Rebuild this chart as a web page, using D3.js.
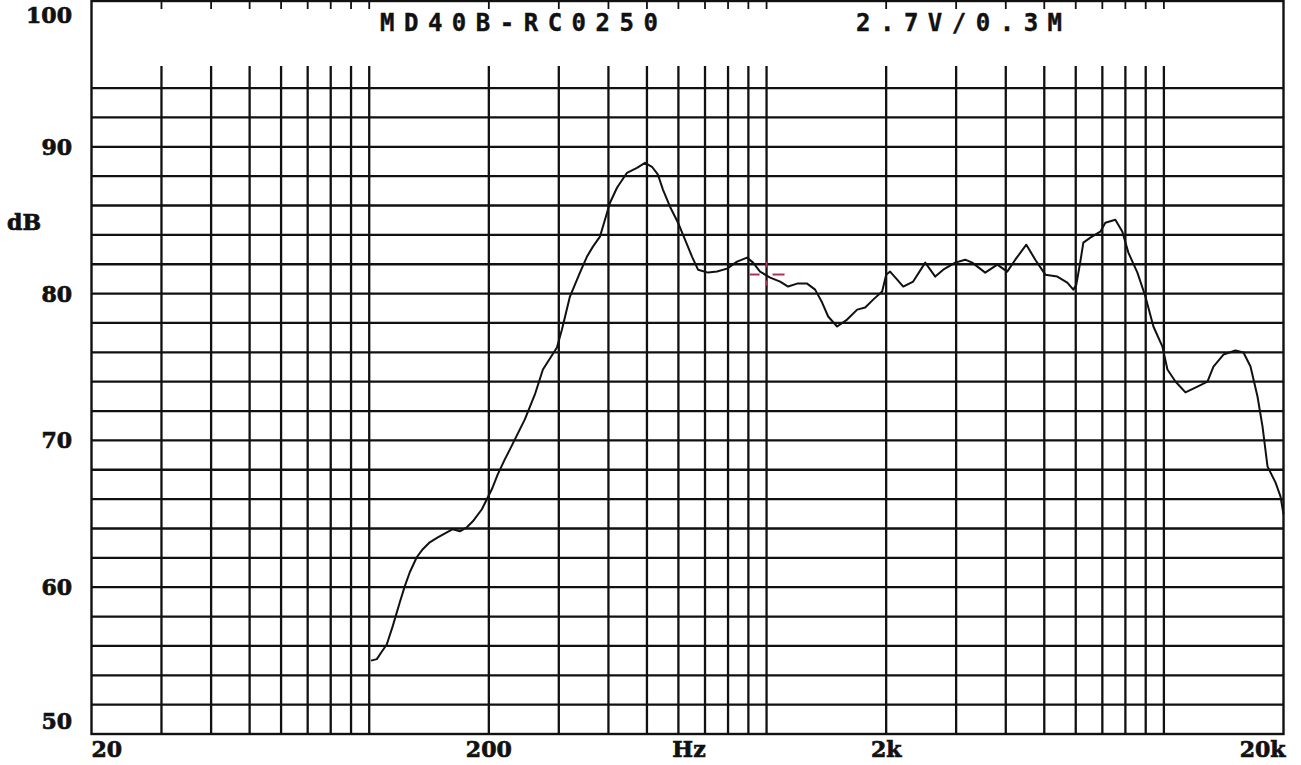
<!DOCTYPE html>
<html>
<head>
<meta charset="utf-8">
<script src="https://cdn.jsdelivr.net/npm/d3@7"></script>
<style>
  html, body { margin: 0; padding: 0; background: #fff; }
  svg { display: block; }
</style>
</head>
<body>
<div id="chart"></div>
<script>
// response curve: frequency (Hz) and level (dB)
const freqHz = [101, 104.5, 107.5, 110.7, 114.6, 119.4, 122.9, 126.5, 131.7, 136.4,
  142, 148.8, 156.8, 162.3, 169.1, 176.1, 182.3, 192.1, 197.7, 203.5,
  210.6, 219.4, 226, 246.4, 261.2, 273.6, 296.8, 305.5, 320, 339.1,
  353.2, 365.6, 380.8, 392, 403.6, 420.3, 445.4, 471.9, 494.3, 514.8,
  533, 548.8, 571.5, 598.7, 623.4, 649.2, 672.2, 712.4, 750.6, 795.4,
  842.8, 893.1, 924.8, 963, 1021, 1082, 1133, 1194, 1265, 1325,
  1380, 1429, 1505, 1595, 1691, 1771, 1855, 1954, 2000, 2046,
  2132, 2208, 2339, 2508, 2658, 2784, 2984, 3162, 3293, 3551,
  3808, 4034, 4226, 4506, 4746, 5030, 5392, 5714, 5916, 6020,
  6162, 6270, 6530, 6918, 7122, 7548, 7862, 8140, 8577, 8984,
  9411, 9915, 10208, 10692, 11330, 12146, 12872, 13328, 14124, 15140,
  15860, 16518, 17202, 17708, 18230, 19090, 19652, 20000];
const levelDb = [55.0, 55.1, 55.6, 56.1, 57.35, 58.98, 60.07, 61.02, 62.04, 62.59,
  63.06, 63.4, 63.74, 63.95, 63.81, 64.08, 64.49, 65.31, 65.99, 66.67,
  67.69, 68.71, 69.39, 71.43, 73.13, 74.83, 76.33, 77.55, 79.8, 81.43,
  82.52, 83.2, 83.88, 85.03, 86.19, 87.21, 88.23, 88.57, 88.91, 88.64,
  88.1, 87.07, 85.92, 84.83, 83.67, 82.52, 81.63, 81.43, 81.5, 81.7,
  82.18, 82.45, 82.11, 81.5, 81.09, 80.82, 80.48, 80.68, 80.68, 80.27,
  79.39, 78.44, 77.76, 78.23, 78.91, 79.05, 79.59, 80.14, 81.29, 81.5,
  80.95, 80.48, 80.82, 82.11, 81.16, 81.63, 82.11, 82.31, 82.11, 81.43,
  81.97, 81.5, 82.31, 83.33, 82.31, 81.29, 81.16, 80.75, 80.27, 80.61,
  82.18, 83.47, 83.81, 84.22, 84.83, 85.03, 84.22, 82.79, 81.43, 79.8,
  77.76, 76.39, 74.83, 74.01, 73.27, 73.67, 74.01, 75.03, 75.85, 76.12,
  75.99, 75.03, 72.99, 70.95, 68.23, 67.14, 66.19, 64.97];

const yTickValues = [100, 90, 80, 70, 60, 50];
const xTickValues = [20, 200, 2000, 20000];
const xTickLabels = ["20", "200", "2k", "20k"];
const titleModel = "MD40B-RC0250";
const titleDrive = "2.7V/0.3M";
const cursorHz = 1000;
const cursorDb = 81.3;

const width = 1301, height = 765;
const plotLeft = 91.5, plotRight = 1283.5, plotTop = 0, plotBottom = 734;

var x = d3.scaleLog().domain([20, 20000]).range([plotLeft, plotRight]);
var y = d3.scaleLinear().domain([50, 100]).range([plotBottom, plotTop]);

// log grid: 30..90, 100..900, 1k..10k
var gridFreqs = [];
[10, 100, 1000].forEach(dec => {
  for (var m = 1; m <= 10; m++) {
    var f = m * dec;
    if (f >= 30 && f < 20000 && gridFreqs.indexOf(f) < 0) gridFreqs.push(f);
  }
});
var gridDb = d3.range(52, 95, 2);

var svg = d3.select("#chart").append("svg")
    .attr("width", width)
    .attr("height", height)
    .attr("viewBox", [0, 0, width, height]);

svg.append("rect").attr("width", width).attr("height", height).attr("fill", "#fff");

var gGrid = svg.append("g").attr("stroke", "#111").attr("stroke-width", 2.3);

gGrid.selectAll(".h")
  .data(gridDb)
  .join("line")
    .attr("class", "h")
    .attr("x1", plotLeft).attr("x2", plotRight)
    .attr("y1", d => y(d)).attr("y2", d => y(d));

gGrid.selectAll(".v")
  .data(gridFreqs)
  .join("line")
    .attr("class", "v")
    .attr("x1", d => x(d)).attr("x2", d => x(d))
    .attr("y1", 66).attr("y2", plotBottom);

// little ticks hanging from the top border
gGrid.selectAll(".t")
  .data(gridFreqs)
  .join("line")
    .attr("class", "t")
    .attr("stroke-width", 1.8)
    .attr("x1", d => x(d)).attr("x2", d => x(d))
    .attr("y1", 1).attr("y2", 9);

// frame
svg.append("rect")
    .attr("x", plotLeft).attr("y", 1)
    .attr("width", plotRight - plotLeft).attr("height", plotBottom - 1)
    .attr("fill", "none")
    .attr("stroke", "#111")
    .attr("stroke-width", 2.4);

// response
var data = freqHz.map((f, i) => ({f: f, db: levelDb[i]}));
var line = d3.line().x(d => x(d.f)).y(d => y(d.db));
svg.append("path")
    .datum(data)
    .attr("d", line)
    .attr("fill", "none")
    .attr("stroke", "#111")
    .attr("stroke-width", 2)
    .attr("stroke-linejoin", "round");

// red cursor mark
var cx = x(cursorHz), cy = y(cursorDb);
var gCur = svg.append("g").attr("stroke", "#b0305c").attr("stroke-width", 2);
gCur.append("line").attr("x1", cx - 17).attr("x2", cx - 7).attr("y1", cy).attr("y2", cy);
gCur.append("line").attr("x1", cx + 6).attr("x2", cx + 18).attr("y1", cy).attr("y2", cy);
gCur.append("line").attr("x1", cx).attr("x2", cx).attr("y1", cy - 13).attr("y2", cy - 7);
gCur.append("line").attr("x1", cx).attr("x2", cx).attr("y1", cy + 6).attr("y2", cy + 11);

// labels
var lab = svg.append("g")
    .attr("font-family", "DejaVu Serif")
    .attr("font-weight", "bold")
    .attr("font-size", 22)
    .attr("fill", "#111")
    .attr("stroke", "#111")
    .attr("stroke-width", 0.7);

lab.selectAll(".yl")
  .data(yTickValues)
  .join("text")
    .attr("class", "yl")
    .attr("x", 72)
    .attr("y", d => Math.min(Math.max(y(d), 15), 721))
    .attr("dy", "0.36em")
    .attr("text-anchor", "end")
    .text(d => d);

lab.append("text")
    .attr("x", 7).attr("y", 222).attr("dy", "0.36em")
    .attr("font-size", 22)
    .text("dB");

lab.selectAll(".xl")
  .data(xTickValues)
  .join("text")
    .attr("class", "xl")
    .attr("x", (d, i) => i == 0 ? plotLeft : i == xTickValues.length - 1 ? plotRight + 2 : x(d))
    .attr("y", 749)
    .attr("dy", "0.36em")
    .attr("text-anchor", (d, i) => i == 0 ? "start" : i == xTickValues.length - 1 ? "end" : "middle")
    .text((d, i) => xTickLabels[i]);

lab.append("text")
    .attr("x", x(638)).attr("y", 749).attr("dy", "0.36em")
    .attr("text-anchor", "middle")
    .text("Hz");

// header
var hdr = svg.append("g")
    .attr("font-family", "DejaVu Sans Mono")
    .attr("font-weight", "bold")
    .attr("font-size", 24)
    .attr("letter-spacing", 9.5)
    .attr("fill", "#111")
    .attr("stroke", "#111")
    .attr("stroke-width", 0.4);
hdr.append("text").attr("x", 380).attr("y", 31).text(titleModel);
hdr.append("text").attr("x", 856).attr("y", 31).text(titleDrive);
</script>
</body>
</html>
